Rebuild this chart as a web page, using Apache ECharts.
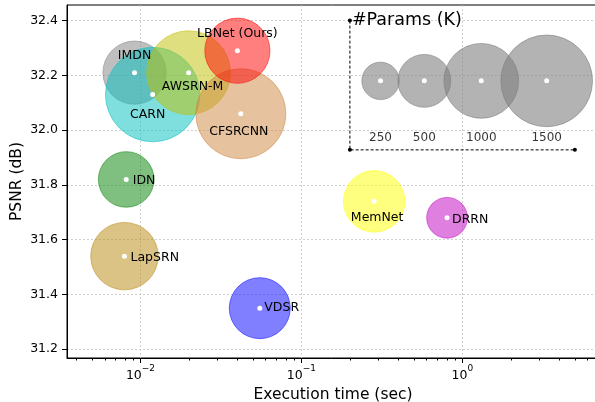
<!DOCTYPE html>
<html>
<head>
<meta charset="utf-8">
<script src="https://cdn.jsdelivr.net/npm/echarts@6/dist/echarts.min.js"></script>
<style>
  html, body { margin: 0; padding: 0; background: #fff; }
  #chart { width: 595px; height: 402px; }
</style>
</head>
<body>
<div id="chart"></div>
<script>
// models (drawing order)
const models = ['IDN', 'LapSRN', 'VDSR', 'MemNet', 'DRRN', 'IMDN', 'CARN', 'AWSRN-M', 'CFSRCNN', 'LBNet (Ours)']
// execution time (sec)
const times = [0.00815, 0.00795, 0.0551, 0.283, 0.803, 0.00918, 0.0119, 0.0199, 0.042, 0.040]
// PSNR (dB)
const psnr = [31.82, 31.54, 31.35, 31.74, 31.68, 32.21, 32.13, 32.21, 32.06, 32.29]
// #Params (K)
const params = [553, 813, 665, 677, 297, 715, 1592, 1254, 1450, 760]
const colors = ['#008000', '#b8860b', '#0000ff', '#ffff00', '#bf00bf', '#808080', '#00bfbf', '#bfbf00', '#cd853f', '#ff0000']

// size legend
const legendParams = [250, 500, 1000, 1500]
const legendTimes = [0.31, 0.58, 1.31, 3.34]
const legendPsnr = 32.18
const legendLabelPsnr = 31.97
const boxTimes = [0.2, 0.2, 5]
const boxPsnr = [32.4, 31.928, 31.928]

// axis ticks
const yTicks = [31.2, 31.4, 31.6, 31.8, 32.0, 32.2, 32.4]
const xMajor = [0.01, 0.1, 1]
const xMinor = [0.004, 0.005, 0.006, 0.007, 0.008, 0.009,
  0.02, 0.03, 0.04, 0.05, 0.06, 0.07, 0.08, 0.09,
  0.2, 0.3, 0.4, 0.5, 0.6, 0.7, 0.8, 0.9, 2, 3, 4, 5, 6, 7]

const font = 'DejaVu Sans'
const sizeScale = 2.366
const bubbleSize = v => sizeScale * Math.sqrt(v[2])

// label placement for each model
const labelStyle = {
  'IMDN': { position: 'inside', offset: [0, -17] },
  'CARN': { position: 'inside', offset: [-5, 20] },
  'AWSRN-M': { position: 'inside', offset: [4, 14] },
  'LBNet (Ours)': { position: 'inside', offset: [0, -17] },
  'CFSRCNN': { position: 'inside', offset: [-2, 18] },
  'IDN': { position: 'right', distance: 4, offset: [0, 1] },
  'LapSRN': { position: 'right', distance: 3.5, offset: [0, 2] },
  'VDSR': { position: 'right', distance: 2, offset: [0, 0] },
  'MemNet': { position: 'inside', offset: [3, 16] },
  'DRRN': { position: 'right', distance: 2.5, offset: [0, 2] }
}

const chart = echarts.init(document.getElementById('chart'))

const bubbles = models.map((m, i) => ({
  name: m,
  value: [times[i], psnr[i], params[i]],
  itemStyle: { color: colors[i], opacity: 0.5, borderColor: colors[i], borderWidth: 1 }
}))
const legendBubbles = legendParams.map((p, i) => ({
  value: [legendTimes[i], legendPsnr, p]
}))
const dots = models.map((m, i) => ({
  name: m,
  value: [times[i], psnr[i]],
  label: Object.assign({ show: true, formatter: m }, labelStyle[m])
})).concat(legendTimes.map(t => ({ value: [t, legendPsnr] })))

const xRange = { min: 0.003494, max: 7.06 }

const option = {
  animation: false,
  grid: {
    left: 67, top: 5, width: 532, height: 353,
    outerBoundsMode: 'none',
    show: true, borderColor: '#000', borderWidth: 1
  },
  xAxis: [
    {
      type: 'log', logBase: 10, min: xRange.min, max: xRange.max,
      position: 'bottom',
      name: 'Execution time (sec)', nameLocation: 'middle', nameGap: 29,
      nameMoveOverlap: false,
      nameTextStyle: { fontFamily: font, fontSize: 15.5, color: '#000' },
      axisLine: { show: true, lineStyle: { color: '#000', width: 1 } },
      axisTick: { show: true, customValues: xMajor, length: 5, lineStyle: { color: '#000' } },
      axisLabel: {
        customValues: xMajor, margin: 6,
        formatter: v => '{b|10}{s|' + String(Math.round(Math.log10(v))).replace('-', '\u2212') + '}',
        rich: {
          b: { fontFamily: font, fontSize: 12.5, color: '#000', lineHeight: 18, verticalAlign: 'bottom' },
          s: { fontFamily: font, fontSize: 9, color: '#000', lineHeight: 18, verticalAlign: 'top' }
        }
      },
      splitLine: { show: true, lineStyle: { color: '#c4c4c4', type: [2, 2], width: 0.8 } },
      minorTick: { show: false }
    },
    {
      type: 'log', logBase: 10, min: xRange.min, max: xRange.max,
      position: 'bottom',
      axisLine: { show: false },
      axisTick: { show: true, customValues: xMinor, length: 2.5, lineStyle: { color: '#000' } },
      axisLabel: { show: false },
      splitLine: { show: false }
    }
  ],
  yAxis: {
    type: 'value', min: 31.168, max: 32.457,
    name: 'PSNR (dB)', nameLocation: 'middle', nameGap: 42,
    nameMoveOverlap: false,
    nameTextStyle: { fontFamily: font, fontSize: 15.5, color: '#000' },
    axisLine: { show: true, lineStyle: { color: '#000', width: 1 } },
    axisTick: { show: true, customValues: yTicks, length: 5, lineStyle: { color: '#000' } },
    axisLabel: {
      customValues: yTicks, margin: 9,
      fontFamily: font, fontSize: 12.5, color: '#000',
      formatter: v => v.toFixed(1)
    },
    splitLine: { show: true, lineStyle: { color: '#c4c4c4', type: [2, 2], width: 0.8 } }
  },
  series: [
    {
      type: 'scatter', name: 'models', z: 2, silent: true,
      symbolSize: bubbleSize,
      data: bubbles
    },
    {
      type: 'scatter', name: 'size legend', z: 2, silent: true,
      symbolSize: bubbleSize,
      itemStyle: { color: '#808080', opacity: 0.6, borderColor: '#808080', borderWidth: 1 },
      data: legendBubbles
    },
    {
      type: 'line', name: 'legend box', z: 3, silent: true,
      symbol: 'circle', symbolSize: 4,
      itemStyle: { color: '#000' },
      lineStyle: { color: '#000', width: 1, type: [3, 2] },
      data: boxTimes.map((t, i) => ({
        value: [t, boxPsnr[i]],
        label: i === 0 ? {
          show: true, position: 'right', distance: 0, formatter: '#Params (K)',
          fontFamily: font, fontSize: 17.5, color: '#000'
        } : { show: false }
      }))
    },
    {
      type: 'scatter', name: 'legend labels', z: 4, silent: true,
      symbolSize: 0,
      label: {
        show: true, position: 'inside', formatter: p => String(legendParams[p.dataIndex]),
        fontFamily: font, fontSize: 12, color: '#000'
      },
      data: legendTimes.map(t => [t, legendLabelPsnr])
    },
    {
      type: 'scatter', name: 'centers', z: 5, silent: true,
      symbolSize: 5,
      itemStyle: { color: '#fff', opacity: 1 },
      label: { fontFamily: font, fontSize: 12.5, color: '#000' },
      data: dots
    }
  ]
}

chart.setOption(option)
</script>
</body>
</html>
